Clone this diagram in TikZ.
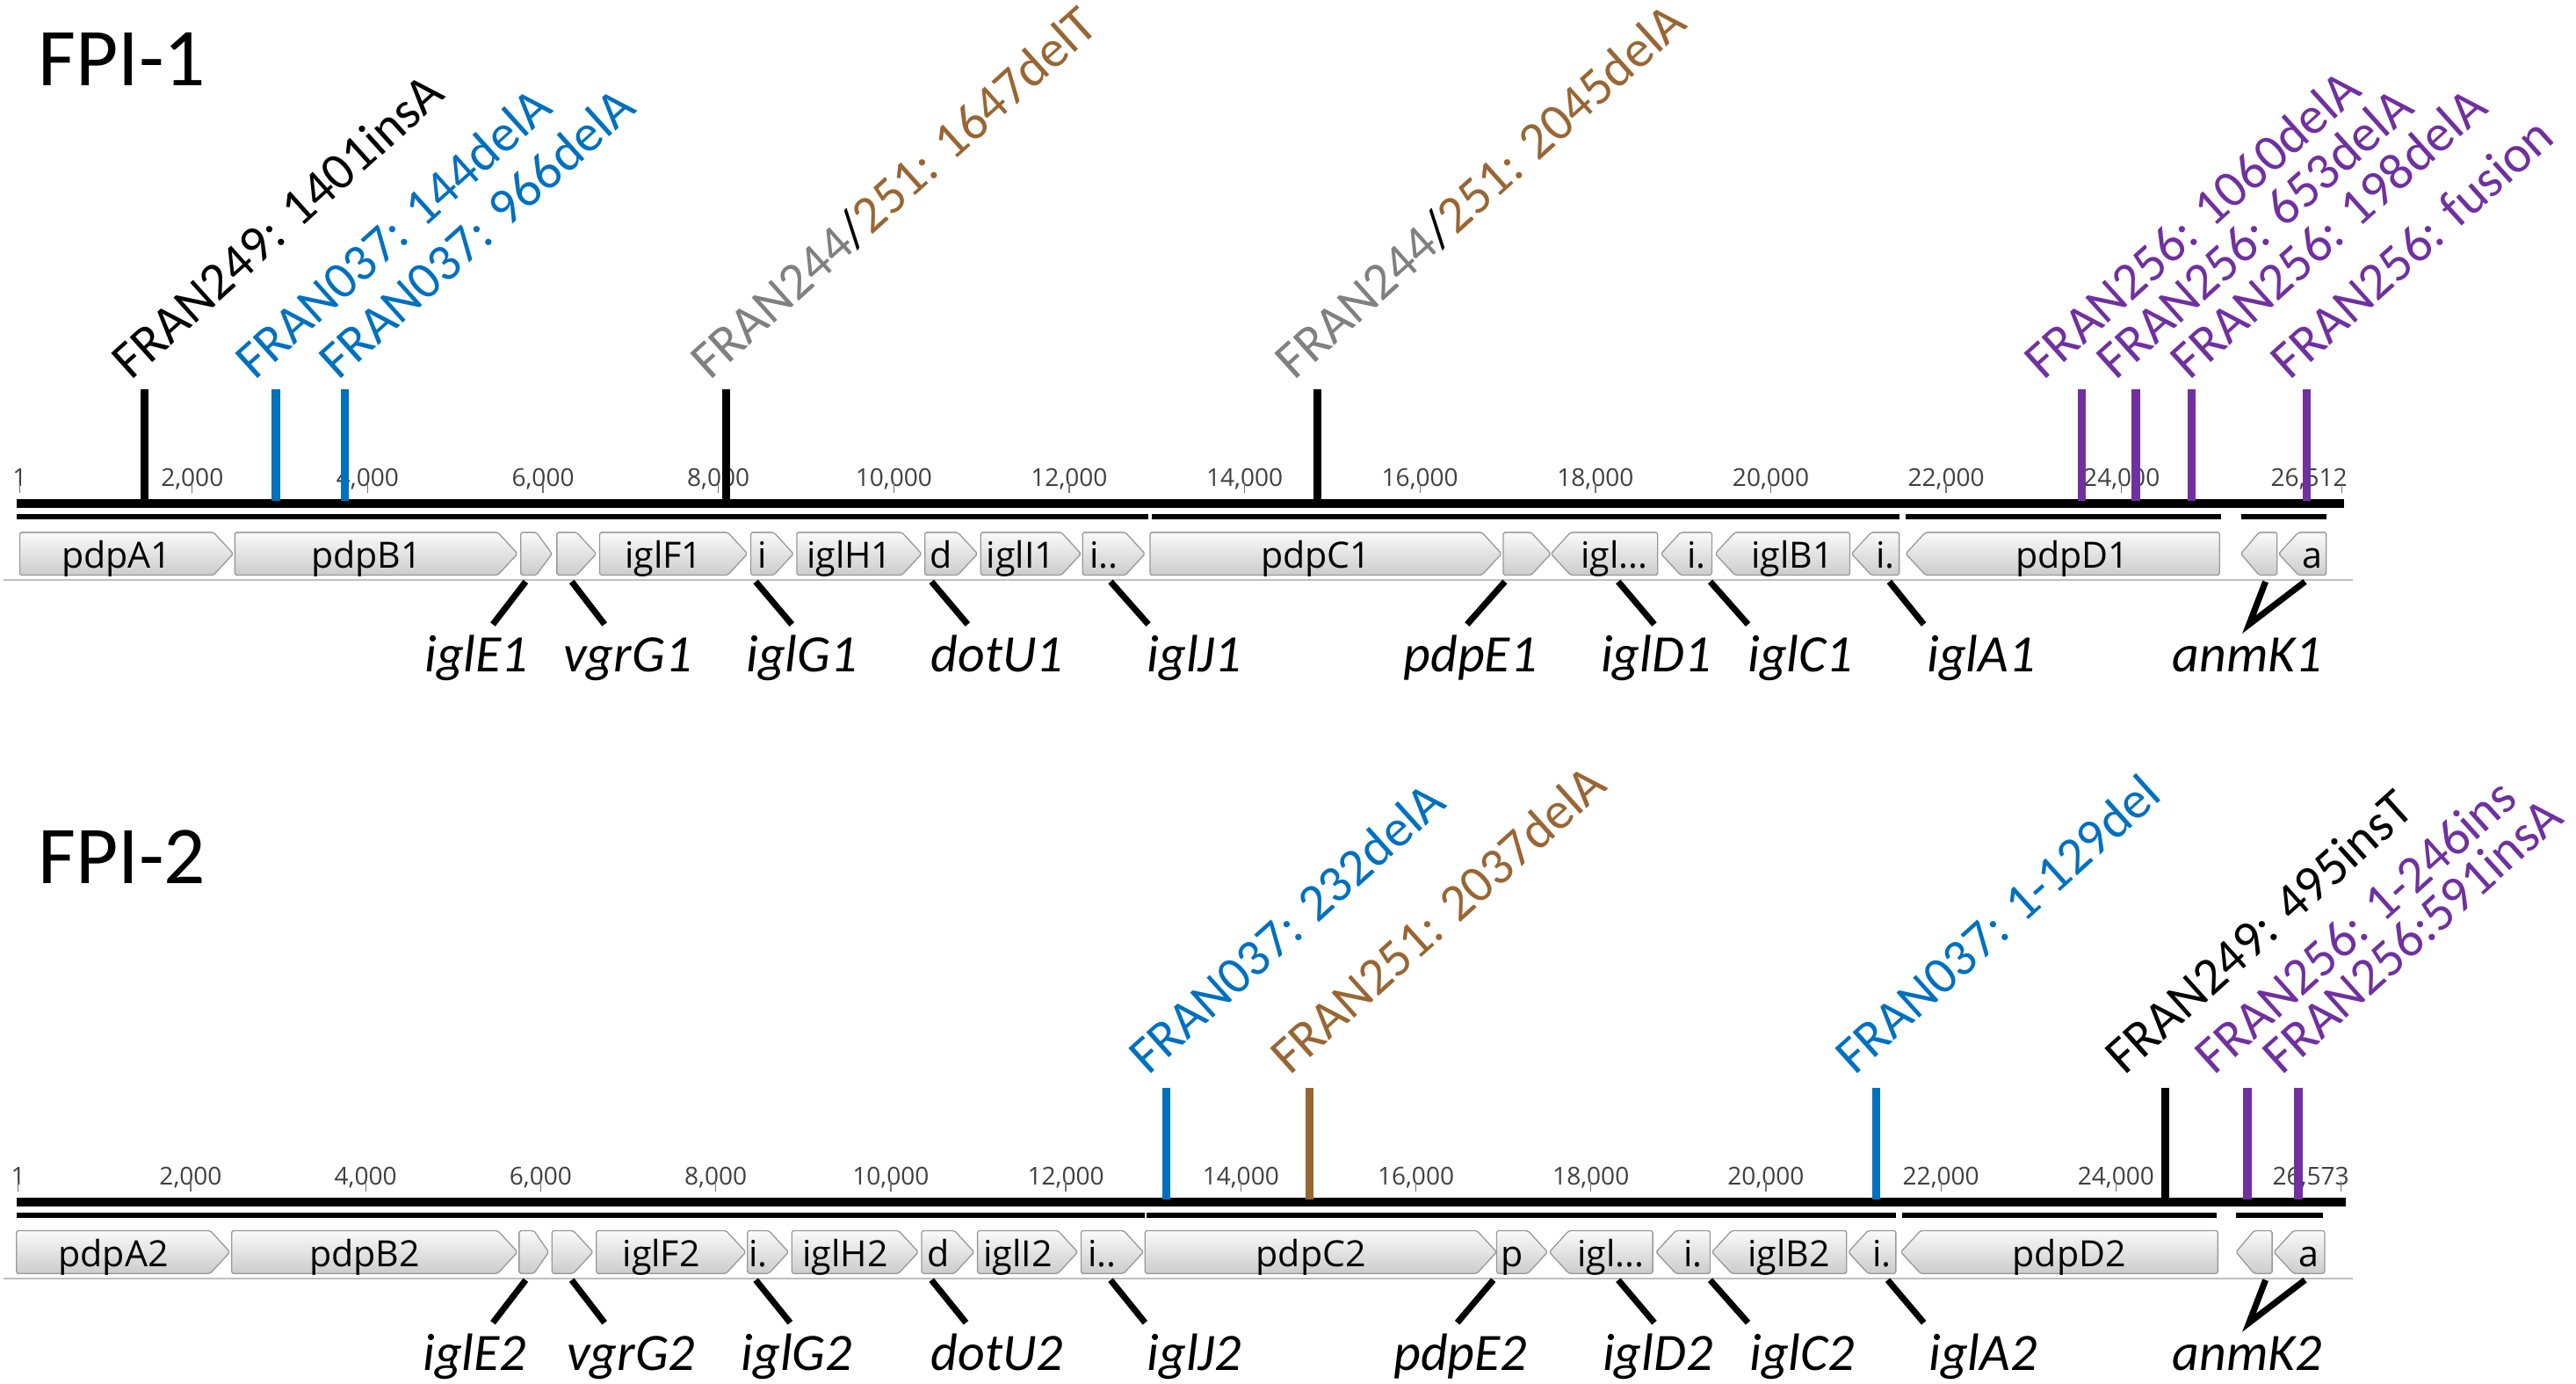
\documentclass[tikz,border=0pt]{standalone}
\usepackage{fontspec}
\setmainfont{Carlito}
\newfontfamily\geneiousfont{Open Sans}
\usetikzlibrary{positioning}
\definecolor{mutblue}{RGB}{0,112,192}
\definecolor{mutbrown}{RGB}{153,102,51}
\definecolor{mutpurple}{RGB}{112,48,160}
\definecolor{mutgray}{RGB}{128,128,128}

\begin{document}
\begin{tikzpicture}[
    x=1pt, y=-1pt,
    ruler/.style = {line width=5pt},
    segment/.style = {line width=3pt},
    tickmark/.style = {draw=black!55, line width=0.7pt},
    ticklabel/.style = {font=\geneiousfont\fontsize{15}{18}\selectfont, text=black!75, inner sep=0pt, anchor=base},
    gene/.style = {draw=black!40, line width=0.7pt, top color=black!2, bottom color=black!20, rounded corners=1pt},
    genetext/.style = {font=\geneiousfont\fontsize{22}{26}\selectfont, inner sep=0pt, anchor=base},
    genename/.style = {font=\itshape\fontsize{32}{38}\selectfont, inner sep=0pt, anchor=base},
    link/.style = {line width=3.8pt},
    mutbar/.style = {line width=5pt},
    mutlabel/.style = {rotate=42, anchor=base west, inner sep=0pt, font=\fontsize{32}{38}\selectfont},
    title/.style = {font=\fontsize{50}{60}\selectfont, anchor=base west, inner sep=0pt}
    ]
    \useasboundingbox (0,0) rectangle (1568,842);

    \node[title] (fpi1) at (23,52) {FPI-1};
    \node[title] (fpi2) at (23,537.5) {FPI-2};

    % FPI-1 ruler
    \node[ticklabel] (ra0) at (12,296) {1};
    \draw[tickmark] (12,294) -- ++(0,6);
    \foreach \k in {2,4,...,24} {
        \node[ticklabel] (ra\k) at ({10.25+53.38*\k},296) {\k,000};
        \draw[tickmark] ({10.25+53.38*\k},294) -- ++(0,6);
    }
    \node[ticklabel, anchor=base east] (ra26) at (1429,296) {26,512};
    \draw[tickmark] (1425.5,294) -- ++(0,6);
    \draw[ruler] (10,306.5) -- (1427,306.5);
    \foreach \a/\b in {10/699, 701/1156, 1160/1352, 1364/1416}
        \draw[segment] (\a,314.5) -- (\b,314.5);

    % FPI-1 genes
    \foreach \a/\b/\t [count=\k] in {12/142/pdpA1, 143/315/pdpB1, 317/336/{}, 339/363/{}, 365/455/iglF1, 457/483/i, 485/561/iglH1, 563/595/d, 597/658/iglI1, 659/697/{i..}, 700/914/pdpC1, 915/944/{}} {
        \pgfmathsetmacro{\tp}{min(12,0.5*(\b-\a))}
        \path[gene] (\a,324) -- ({\b-\tp},324) -- (\b,337) -- ({\b-\tp},350) -- (\a,350) -- cycle;
        \node[genetext] (ga\k) at ({(\a+\b-\tp)/2},346) {\t};
    }
    \foreach \a/\b/\t [count=\k] in {944/1009/{igl...}, 1011/1042/{i.}, 1044/1126/iglB1, 1127/1156/{i.}, 1160/1351/pdpD1, 1364/1386/{}, 1387/1416/a} {
        \pgfmathsetmacro{\tp}{min(12,0.5*(\b-\a))}
        \path[gene] (\a,337) -- ({\a+\tp},324) -- (\b,324) -- (\b,350) -- ({\a+\tp},350) -- cycle;
        \node[genetext] (gb\k) at ({(\a+\tp+\b)/2},346) {\t};
    }
    \draw[black!25, line width=1pt] (2,353) -- (1432,353);

    % FPI-1 gene names
    \foreach \u/\v/\w/\t [count=\k] in {320/300/290/iglE1, 348/368/382/vgrG1, 460/482/488/iglG1, 567/589/607/dotU1, 676/699/727/iglJ1, 916/893/895/pdpE1, 985/1007/1008/iglD1, 1041/1064/1096/iglC1, 1150/1171/1206/iglA1} {
        \coordinate (ua\k) at (\u,354);
        \coordinate (va\k) at (\v,380);
        \draw[link] (ua\k) -- (va\k);
        \node[genename] (na\k) at (\w,409) {\t};
    }
    \coordinate (kaL) at (1379,354);
    \coordinate (kaR) at (1403,354);
    \coordinate (kaV) at (1369,380);
    \draw[link] (kaL) -- (kaV) -- (kaR);
    \node[genename] (na10) at (1368,409) {anmK1};

    % FPI-1 mutations
    \foreach \x/\s/\c/\t [count=\k] in {88/82/black/{FRAN249: 1401insA}, 168/157/mutblue/{FRAN037: 144delA}, 210/208/mutblue/{FRAN037: 966delA}, 442/434/black/{\textcolor{mutgray}{FRAN244}/\textcolor{mutbrown}{251: 1647delT}}, 802/790/black/{\textcolor{mutgray}{FRAN244}/\textcolor{mutbrown}{251: 2045delA}}, 1267/1246/mutpurple/{FRAN256: 1060delA}, 1300/1290/mutpurple/{FRAN256: 653delA}, 1334/1335/mutpurple/{FRAN256: 198delA}, 1404/1396/mutpurple/{FRAN256: fusion}} {
        \coordinate (pa\k) at (\x,237);
        \coordinate (sa\k) at ({\s-2},232);
        \draw[mutbar, \c] (pa\k) -- ++(0,68);
        \node[mutlabel, text=\c] (la\k) at (sa\k) {\t};
    }

    \begin{scope}[yshift=-425pt]
        % FPI-2 ruler
        \node[ticklabel] (rb0) at (11,296) {1};
        \draw[tickmark] (11,294) -- ++(0,6);
        \foreach \k in {2,4,...,24} {
            \node[ticklabel] (rb\k) at ({9.5+53.27*\k},296) {\k,000};
            \draw[tickmark] ({9.5+53.27*\k},294) -- ++(0,6);
        }
        \node[ticklabel, anchor=base east] (rb26) at (1430,296) {26,573};
        \draw[tickmark] (1425,294) -- ++(0,6);
        \draw[ruler] (10,306.5) -- (1428,306.5);
        \foreach \a/\b in {10/697, 698/1154, 1158/1349, 1361/1414}
            \draw[segment] (\a,314.5) -- (\b,314.5);

        % FPI-2 genes
        \foreach \a/\b/\t [count=\k] in {10/140/pdpA2, 141/315/pdpB2, 316/334/{}, 336/361/{}, 363/454/iglF2, 455/480/{i.}, 482/559/iglH2, 561/593/d, 595/656/iglI2, 658/696/{i..}, 697/911/pdpC2, 911/942/p} {
            \pgfmathsetmacro{\tp}{min(12,0.5*(\b-\a))}
            \path[gene] (\a,324) -- ({\b-\tp},324) -- (\b,337) -- ({\b-\tp},350) -- (\a,350) -- cycle;
            \node[genetext] (gc\k) at ({(\a+\b-\tp)/2},346) {\t};
        }
        \foreach \a/\b/\t [count=\k] in {943/1006/{igl...}, 1008/1041/{i.}, 1042/1124/iglB2, 1125/1154/{i.}, 1157/1350/pdpD2, 1361/1383/{}, 1384/1415/a} {
            \pgfmathsetmacro{\tp}{min(12,0.5*(\b-\a))}
            \path[gene] (\a,337) -- ({\a+\tp},324) -- (\b,324) -- (\b,350) -- ({\a+\tp},350) -- cycle;
            \node[genetext] (gd\k) at ({(\a+\tp+\b)/2},346) {\t};
        }
        \draw[black!25, line width=1pt] (2,353) -- (1432,353);

        % FPI-2 gene names
        \foreach \u/\v/\w/\t [count=\k] in {320/300/289/iglE2, 348/368/384/vgrG2, 460/481/485/iglG2, 567/588/607/dotU2, 676/697/727/iglJ2, 909/887/889/pdpE2, 985/1007/1009/iglD2, 1041/1064/1097/iglC2, 1149/1171/1207/iglA2} {
            \coordinate (ub\k) at (\u,354);
            \coordinate (vb\k) at (\v,380);
            \draw[link] (ub\k) -- (vb\k);
            \node[genename] (nb\k) at (\w,409) {\t};
        }
        \coordinate (kbL) at (1379,354);
        \coordinate (kbR) at (1403,354);
        \coordinate (kbV) at (1369,380);
        \draw[link] (kbL) -- (kbV) -- (kbR);
        \node[genename] (nb10) at (1368,409) {anmK2};

        % FPI-2 mutations
        \foreach \x/\s/\c/\t [count=\k] in {710/701/mutblue/{FRAN037: 232delA}, 797/787/mutbrown/{FRAN251: 2037delA}, 1142/1131/mutblue/{FRAN037: 1-129del}, 1318/1295/black/{FRAN249: 495insT}, 1368/1350/mutpurple/{FRAN256: 1-246ins}, 1399/1391/mutpurple/{FRAN256:591insA}} {
            \coordinate (pb\k) at (\x,237);
            \coordinate (sb\k) at ({\s-2},230);
            \draw[mutbar, \c] (pb\k) -- ++(0,68);
            \node[mutlabel, text=\c] (lb\k) at (sb\k) {\t};
        }
    \end{scope}
\end{tikzpicture}
\end{document}
